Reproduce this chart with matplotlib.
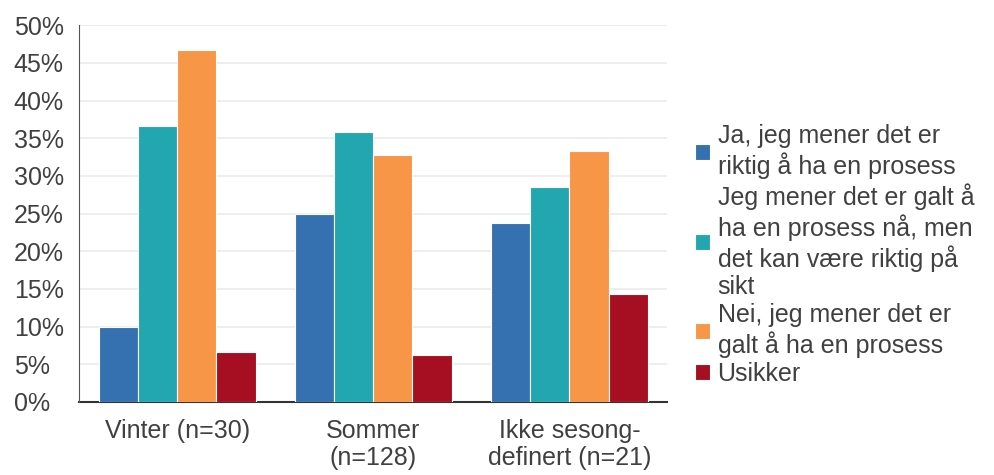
import numpy as np
import matplotlib
matplotlib.use('Agg')
import matplotlib.pyplot as plt
from matplotlib.ticker import PercentFormatter

plt.rcParams['font.family'] = ['Liberation Sans', 'DejaVu Sans']

# data (share of respondents, %)
categories = ["Vinter (n=30)", "Sommer\n(n=128)", "Ikke sesong-\ndefinert (n=21)"]
series_labels = [
    "Ja, jeg mener det er\nriktig å ha en prosess",
    "Jeg mener det er galt å\nha en prosess nå, men\ndet kan være riktig på\nsikt",
    "Nei, jeg mener det er\ngalt å ha en prosess",
    "Usikker",
]
ja_values = [10.0, 25.0, 23.8]
galt_naa_values = [36.7, 35.9, 28.6]
nei_values = [46.7, 32.8, 33.3]
usikker_values = [6.7, 6.3, 14.3]

series_values = [ja_values, galt_naa_values, nei_values, usikker_values]
colors = ["#3571B0", "#22A6AF", "#F79646", "#A50F21"]
text_color = "#404040"

fig = plt.figure(figsize=(9.94, 4.75), dpi=100)
ax = fig.add_axes([0.0795, 0.1537, 0.592, 0.793])

x = np.arange(len(categories))
width = 0.2
for i, (vals, lab, col) in enumerate(zip(series_values, series_labels, colors)):
    ax.bar(x + (i - 1.5) * width, vals, width, color=col, label=lab,
           edgecolor="white", linewidth=0.8, zorder=3)

ax.set_xlim(-0.5, 2.5)
ax.set_ylim(0, 50)
ax.set_yticks(np.arange(0, 51, 5))
ax.yaxis.set_major_formatter(PercentFormatter(decimals=0))
ax.set_xticks(x)
ax.set_xticklabels(categories)
ax.tick_params(axis='both', length=0, labelsize=18, colors=text_color)
ax.tick_params(axis='y', pad=47)
ax.tick_params(axis='x', pad=12)
for lbl in ax.get_yticklabels():
    lbl.set_horizontalalignment('left')
ax.grid(axis='y', color="#ebebeb", linewidth=1.2, zorder=0)

for side in ["top", "right"]:
    ax.spines[side].set_visible(False)
ax.spines["left"].set_color("#555555")
ax.spines["bottom"].set_color("#333333")
ax.spines["bottom"].set_linewidth(1.5)
ax.spines["bottom"].set_zorder(2)

leg = ax.legend(loc="center left", bbox_to_anchor=(1.03, 0.39), frameon=False,
                fontsize=18, labelspacing=0.15, handlelength=0.6, handleheight=0.6,
                handletextpad=0.3, borderaxespad=0)
for t in leg.get_texts():
    t.set_color(text_color)

fig.savefig("out.png", dpi=100)
